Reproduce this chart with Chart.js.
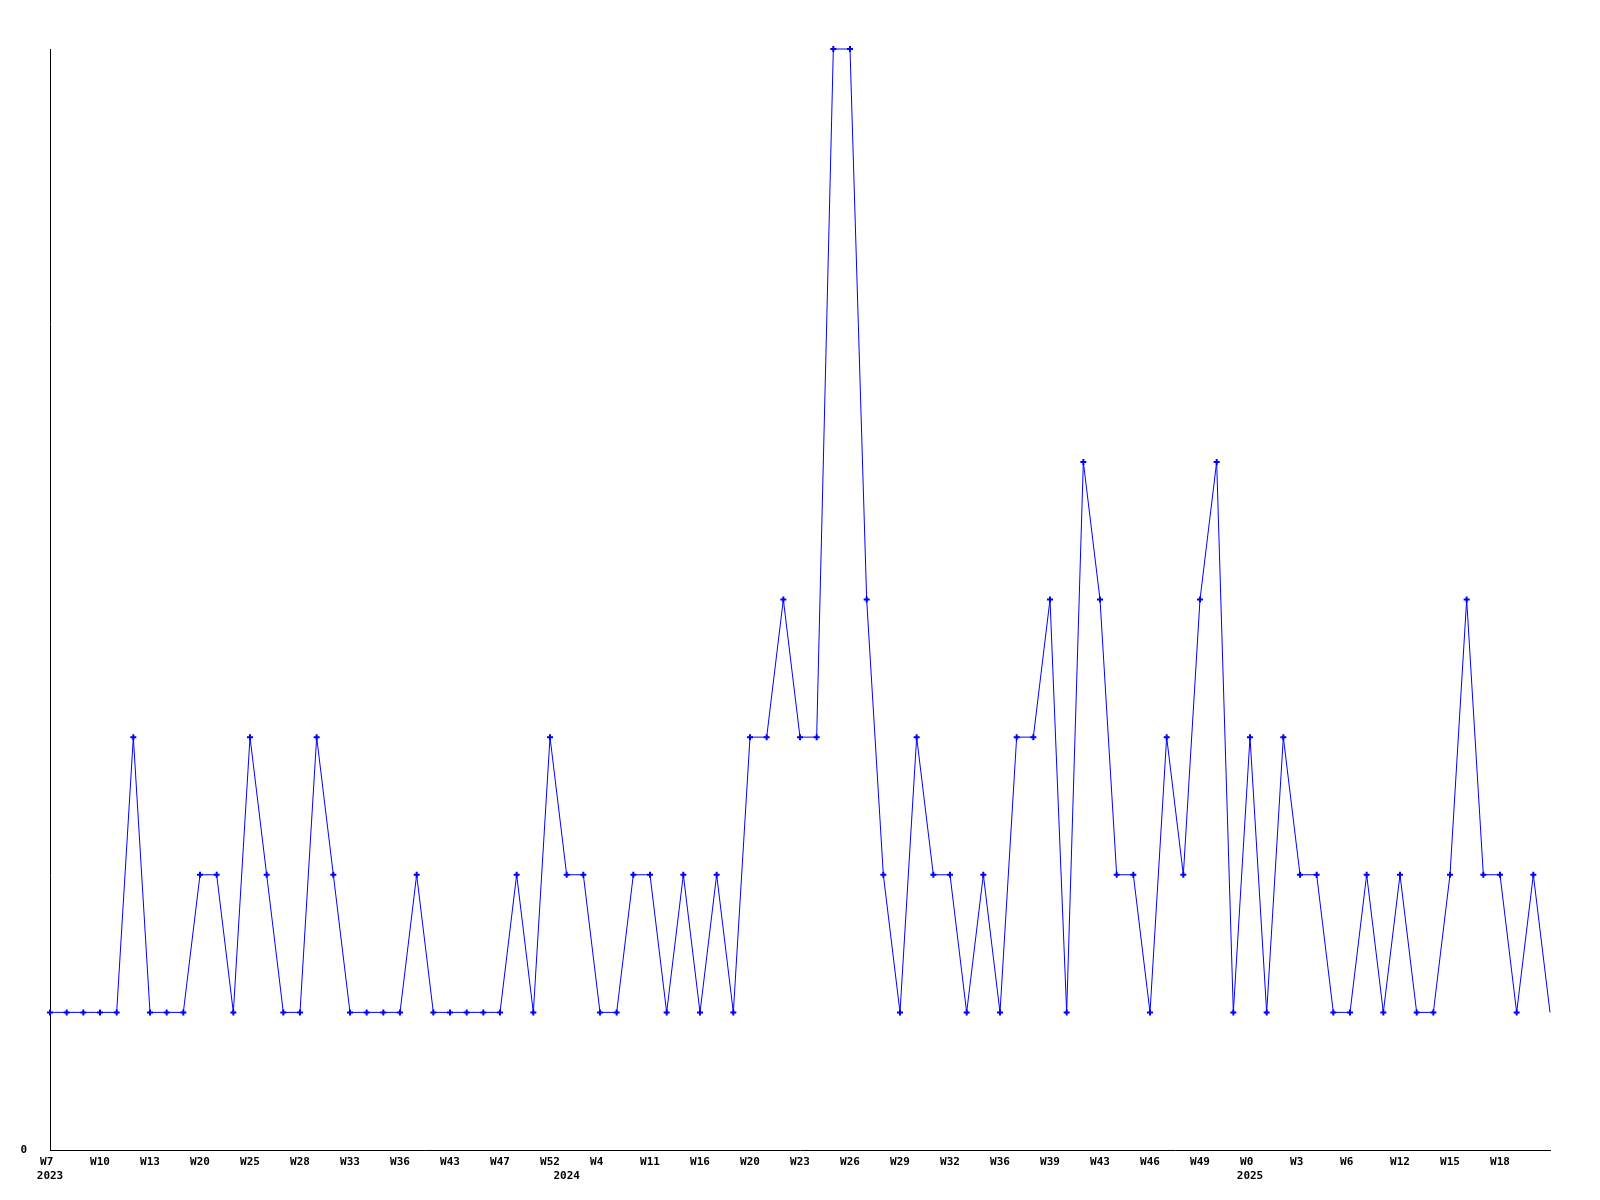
<!DOCTYPE html>
<html>
<head>
<meta charset="utf-8">
<script src="https://cdn.jsdelivr.net/npm/chart.js@4.4.1/dist/chart.umd.min.js"></script>
<style>
    html, body { margin: 0; padding: 0; background: #ffffff; }
    #wrap { width: 1600px; height: 1200px; }
</style>
</head>
<body>
<div id="wrap"><canvas id="weeklyChart" width="1600" height="1200"></canvas></div>
<script>
// weekly counts, one per point (left to right)
const counts = [
    1, 1, 1, 1, 1, 3, 1, 1, 1, 2,
    2, 1, 3, 2, 1, 1, 3, 2, 1, 1,
    1, 1, 2, 1, 1, 1, 1, 1, 2, 1,
    3, 2, 2, 1, 1, 2, 2, 1, 2, 1,
    2, 1, 3, 3, 4, 3, 3, 8, 8, 4,
    2, 1, 3, 2, 2, 1, 2, 1, 3, 3,
    4, 1, 5, 4, 2, 2, 1, 3, 2, 4,
    5, 1, 3, 1, 3, 2, 2, 1, 1, 2,
    1, 2, 1, 1, 2, 4, 2, 2, 1, 2,
    1
];

// week labels shown on every third point
const weekTicks = [
    "W7", "W10", "W13", "W20", "W25", "W28", "W33", "W36", "W43", "W47",
    "W52", "W4", "W11", "W16", "W20", "W23", "W26", "W29", "W32", "W36",
    "W39", "W43", "W46", "W49", "W0", "W3", "W6", "W12", "W15", "W18"
];

// year markers: point index -> year
const yearIndex = [0, 31, 72];
const yearText = ["2023", "2024", "2025"];

// labels in the original sit left-aligned a bit before the point,
// so short ones get a trailing space to shift them the same way
const labels = counts.map((c, i) => {
    let wk = (i % 3 === 0 && weekTicks[i / 3]) ? weekTicks[i / 3] : "";
    if (wk.length === 2) wk += " ";
    const y = yearIndex.indexOf(i);
    return y >= 0 ? [wk, yearText[y]] : wk;
});

// last point is drawn without a marker
const radii = counts.map((c, i) => i === counts.length - 1 ? 0 : 3);

const tickFont = { family: "'DejaVu Sans Mono', monospace", size: 11, weight: "bold", lineHeight: "14px" };

new Chart(document.getElementById("weeklyChart").getContext("2d"), {
    type: "line",
    data: {
        labels: labels,
        datasets: [{
            data: counts,
            borderColor: "#0000ff",
            backgroundColor: "#0000ff",
            borderWidth: 1,
            pointStyle: "cross",
            pointRadius: radii,
            pointBorderWidth: 2,
            pointBorderColor: "#0000ff",
            tension: 0,
            fill: false,
            clip: false
        }]
    },
    options: {
        responsive: false,
        animation: false,
        layout: { padding: { top: 49, right: 50, left: 0, bottom: 0 } },
        plugins: {
            legend: { display: false },
            tooltip: { enabled: false }
        },
        scales: {
            x: {
                offset: false,
                grid: { display: false, drawTicks: false },
                border: { display: true, color: "#000000", width: 1 },
                ticks: {
                    autoSkip: false,
                    maxRotation: 0,
                    minRotation: 0,
                    padding: 5,
                    color: "#000000",
                    font: tickFont
                },
                afterFit: s => { s.height = 50; }
            },
            y: {
                min: 0,
                max: 8,
                grid: { display: false, drawTicks: false },
                border: { display: true, color: "#000000", width: 1 },
                afterBuildTicks: s => { s.ticks = [{ value: 0 }]; },
                ticks: {
                    padding: 23,
                    color: "#000000",
                    font: tickFont
                },
                afterFit: s => { s.width = 50; }
            }
        }
    }
});
</script>
</body>
</html>
